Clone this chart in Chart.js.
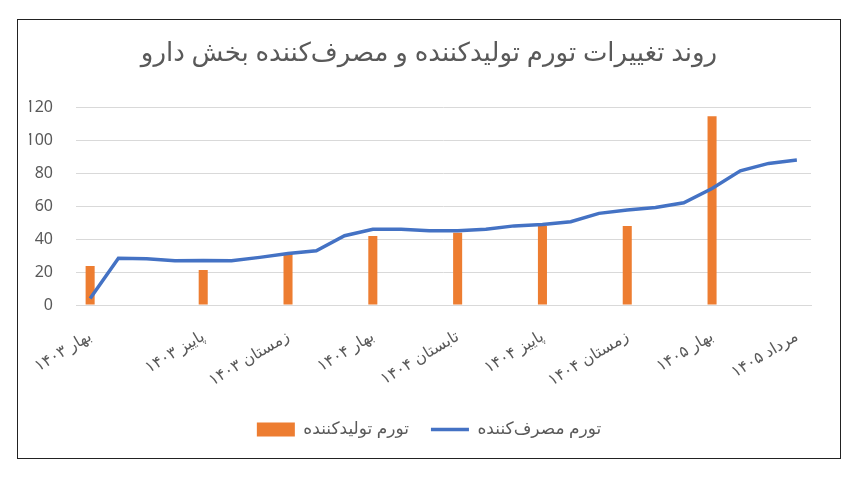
<!DOCTYPE html>
<html>
<head>
<meta charset="utf-8">
<script src="https://cdn.jsdelivr.net/npm/chart.js@4/dist/chart.umd.min.js"></script>
<style>
  body { margin: 0; background: #fff; }
  #box {
    position: absolute;
    left: 17px; top: 19px;
    width: 822px; height: 438px;
    border: 1px solid #222;
  }
</style>
</head>
<body>
<div id="box"><canvas id="myChart"></canvas></div>
<script>
// 26 categories, only some of them carry a label
let labels = [
    'بهار ۱۴۰۳', '', '', '', 'پاییز ۱۴۰۳', '', '', 'زمستان ۱۴۰۳', '', '',
    'بهار ۱۴۰۴', '', '', 'تابستان ۱۴۰۴', '', '', 'پاییز ۱۴۰۴', '', '',
    'زمستان ۱۴۰۴', '', '', 'بهار ۱۴۰۵', '', '', 'مرداد ۱۴۰۵'
];

let producerValues = [
    23.6, null, null, null, 21.2, null, null, 31, null, null,
    41.8, null, null, 43.8, null, null, 47.9, null, null,
    48, null, null, 114.5, null, null, null
];

let consumerValues = [
    4, 28.3, 28, 26.8, 27, 26.8, 28.9, 31.3, 32.9, 42,
    45.9, 45.9, 45, 45, 45.9, 48, 48.9, 50.5, 55.6,
    57.6, 59.2, 62, 70.7, 81.4, 85.9, 87.9
];

let yTicks = [0, 20, 40, 60, 80, 100, 120];

let textColor = '#595959';
let gridColor = '#d9d9d9';
let fontFamily = "'Noto Sans', 'DejaVu Sans', sans-serif";

let data = {
    labels: labels,
    datasets: [{
        type: 'line',
        label: 'تورم مصرف‌کننده',
        data: consumerValues,
        borderColor: '#4472c4',
        backgroundColor: '#4472c4',
        borderWidth: 3.5,
        pointRadius: 0,
        tension: 0
    }, {
        type: 'bar',
        label: 'تورم تولیدکننده',
        data: producerValues,
        backgroundColor: '#ed7d31',
        borderWidth: 0,
        categoryPercentage: 1,
        barPercentage: 0.32
    }]
};

let config = {
    data,
    options: {
        responsive: true,
        maintainAspectRatio: false,
        animation: false,
        layout: {
            padding: { left: 11, right: 11, top: 0, bottom: 10 }
        },
        plugins: {
            title: {
                display: true,
                text: 'روند تغییرات تورم تولیدکننده و مصرف‌کننده بخش دارو',
                color: textColor,
                font: { family: fontFamily, size: 26, weight: 'normal' },
                padding: { top: 18, bottom: 38 }
            },
            legend: {
                position: 'bottom',
                labels: {
                    color: textColor,
                    font: { family: fontFamily, size: 17 },
                    usePointStyle: true,
                    pointStyleWidth: 38,
                    boxHeight: 14,
                    padding: 22,
                    sort: (a, b) => b.datasetIndex - a.datasetIndex,
                    generateLabels: function (chart) {
                        return chart.data.datasets.map((ds, i) => ({
                            text: ds.label,
                            fillStyle: ds.backgroundColor,
                            strokeStyle: ds.type === 'line' ? ds.borderColor : ds.backgroundColor,
                            lineWidth: ds.type === 'line' ? 3.5 : 0,
                            pointStyle: ds.type === 'line' ? 'line' : 'rect',
                            fontColor: textColor,
                            datasetIndex: i
                        }));
                    }
                }
            },
            tooltip: { enabled: false }
        },
        scales: {
            x: {
                afterFit: function (scale) {
                    // keep the plot where the reference has it
                    scale.height = 94;
                    scale.paddingLeft = 0;
                    scale.paddingRight = 29;
                },
                grid: { display: false, drawTicks: false },
                border: { display: true, color: gridColor, width: 1 },
                ticks: {
                    autoSkip: false,
                    maxRotation: 31,
                    minRotation: 31,
                    padding: 22,
                    color: textColor,
                    font: { family: fontFamily, size: 16 }
                }
            },
            y: {
                min: 0,
                max: 120,
                afterBuildTicks: function (scale) {
                    scale.ticks = yTicks.map(v => ({ value: v }));
                },
                afterFit: function (scale) {
                    scale.width = 47;
                },
                grid: { color: gridColor, drawTicks: false },
                border: { display: false },
                ticks: {
                    padding: 23,
                    color: textColor,
                    font: { family: fontFamily, size: 16 }
                }
            }
        }
    }
};

let myChart = new Chart(document.getElementById('myChart'), config);
</script>
</body>
</html>
